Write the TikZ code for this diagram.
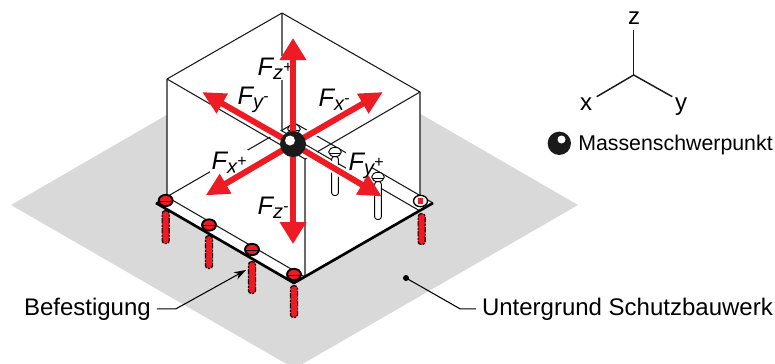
\documentclass[tikz,border=0pt]{standalone}
\usepackage{fontspec}
\setmainfont{Liberation Sans}
\usepackage{xcolor}
\usetikzlibrary{positioning, arrows.meta, shapes.geometric, calc}
\definecolor{forceRed}{HTML}{ED1C24}
\definecolor{groundGrey}{HTML}{D9D9D9}
\definecolor{ballBlack}{HTML}{1A1A1A}
\newcommand{\forcelabel}[2]{F\raisebox{-3pt}{\fontsize{15}{15}\selectfont #1}\raisebox{2.2pt}{\fontsize{12}{12}\selectfont #2}}
\tikzset{
  thinline/.style={line width=0.8pt, draw=ballBlack},
  plateline/.style={line width=2pt, draw=black, line join=round},
  forcearrow/.style={line width=4.5pt, draw=forceRed, fill=forceRed},
  forcehalo/.style={preaction={draw=white, line width=7.5pt}},
  forcelbl/.style={font=\fontsize{19}{21}\selectfont\itshape, anchor=base west, inner sep=1pt},
  plainlbl/.style={font=\fontsize{18}{21}\selectfont, inner sep=0pt},
  leader/.style={line width=0.8pt, draw=black},
  headred/.style={ellipse, draw=black, line width=1.4pt, fill=forceRed, minimum width=10.5pt,
    minimum height=8.5pt, inner sep=0pt},
  headwhite/.style={ellipse, draw=black, line width=0.7pt, fill=white, minimum width=9.5pt,
    minimum height=7pt, inner sep=0pt},
  shankred/.style={rectangle, rounded corners=2.4pt, anchor=north, draw=black, fill=forceRed,
    line width=0.9pt, dash pattern=on 4pt off 1pt on 1.5pt off 1pt, minimum width=5.4pt, inner sep=0pt},
  shankwhite/.style={rectangle, rounded corners=2pt, anchor=north, draw=black, fill=white,
    line width=0.7pt, minimum width=5pt, inner sep=0pt},
}
\begin{document}
\begin{tikzpicture}[x=0.75pt, y=-0.75pt]
  \useasboundingbox (0,0) rectangle (775,364);
  % ground and box
  \fill[groundGrey] (11,205) -- (294.5,41) -- (578,205) -- (302.4,364) -- (286.6,364) -- cycle;
  \fill[white] (167,79) -- (282,13) -- (420,92) -- (420,211) -- (305,277) -- (167,197) -- cycle;
  \foreach \px/\py/\len/\name in {165.7/210/33/s1, 209/235/33/s2, 252/261/32/s3, 294/285/32/s4, 421.7/213/31/s5}{
    \node[shankred, minimum height=\len*0.75pt] (\name) at (\px,\py) {};
  }
  \fill[white] (156,203) -- (294.5,123) -- (433,203) -- (294,283) -- cycle;
  \draw[thinline, line join=round] (156,203) -- (294.5,123) -- (433,203);
  \draw[thinline, line join=round] (282,13) -- (167,79) -- (167,197) -- (305,277) -- (305,159) -- (167,79);
  \draw[thinline] (282,13) -- (420,92) -- (420,205);
  \draw[thinline] (420,92) -- (305,159);
  \draw[thinline] (282,13) -- (282,131) -- (420,211);
  \draw[plateline] (156,203) -- (294,283) -- (433,203);
  % force labels, hide the lines behind them
  \node[forcelbl, fill=white] (lblzp) at (256,75) {\forcelabel{z}{+}};
  \node[forcelbl, fill=white] (lblym) at (236,104) {\forcelabel{y}{-}};
  \node[forcelbl, fill=white] (lblxm) at (317,106) {\forcelabel{x}{-}};
  \node[forcelbl, fill=white] (lblxp) at (210,169) {\forcelabel{x}{+}};
  \node[forcelbl, fill=white] (lblzm) at (256,214) {\forcelabel{z}{-}};
  \fill[white] (346,152) rectangle (372,179);
  % bolts
  \foreach \px/\py/\top/\len/\name in {294/129/132/10/b0, 335/152/156/39/b1, 378/177/181/38/b2}{
    \node[shankwhite, minimum height=\len*0.75pt] (shank\name) at (\px,\top) {};
    \node[headwhite] (head\name) at (\px,\py) {};
    \draw[line width=0.5pt, draw=black] ($(head\name.center)+(-6,1)$) -- ($(head\name.center)+(6,1)$);
  }
  \foreach \px/\py/\name in {165.7/200.5/h1, 209/225/h2, 252/249.5/h3, 294/274.5/h4}{
    \node[headred] (\name) at (\px,\py) {};
    \draw[line width=0.7pt, draw=black] ($(\name.center)+(-6,0.5)$) -- ($(\name.center)+(6,0.5)$);
  }
  \node[headwhite, minimum width=10.5pt, minimum height=8.5pt, line width=1pt] (h5) at (420.5,201) {};
  \node[fill=forceRed, minimum width=4pt, minimum height=5pt, inner sep=0pt] (h5core) at (h5.center) {};
  % forces
  \node[circle, fill=ballBlack, minimum size=19.5pt, inner sep=0pt] (ball) at (293,144) {};
  \coordinate (tipzp) at (293,38);
  \coordinate (tipzm) at (293,244);
  \foreach \tip in {tipzp, tipzm}{
    \draw[forcearrow, -{Triangle[length=16.5pt, width=19pt]}] (ball.center) -- (\tip);
  }
  \coordinate (tipym) at (202,92);
  \coordinate (tipxm) at (383,92);
  \coordinate (tipxp) at (205.5,195.5);
  \coordinate (tipyp) at (382,196.5);
  \foreach \tip in {tipym, tipxm, tipxp, tipyp}{
    \draw[forcearrow, forcehalo, -{Triangle[length=17.5pt, width=16pt]}] (ball.center) -- (\tip);
  }
  \node[circle, fill=ballBlack, minimum size=19.5pt, inner sep=0pt] (ballfront) at (ball.center) {};
  \node[circle, fill=white, minimum size=7.5pt, inner sep=0pt] (ballspot) at (290,140.5) {};
  \node[forcelbl] (lblyp) at (347,170) {\forcelabel{y}{+}};
  % axes
  \node[plainlbl, anchor=base] (axz) at (634,25) {z};
  \node[plainlbl, anchor=base] (axx) at (586,110) {x};
  \node[plainlbl, anchor=base] (axy) at (681,110) {y};
  \coordinate (axo) at (633.7,75);
  \coordinate (axzend) at (633.7,30);
  \coordinate (axxend) at (596.7,96.7);
  \coordinate (axyend) at (672.3,96.7);
  \draw[line width=1.1pt, draw=ballBlack] (axo) -- (axzend);
  \draw[line width=1.1pt, draw=ballBlack] (axo) -- (axxend);
  \draw[line width=1.1pt, draw=ballBlack] (axo) -- (axyend);
  % legend
  \node[circle, fill=ballBlack, minimum size=17.5pt, inner sep=0pt] (legball) at (559.3,143.3) {};
  \node[circle, fill=white, minimum size=6pt, inner sep=0pt] (legspot) at (561.5,139.5) {};
  \node[font=\fontsize{16}{19}\selectfont, inner sep=0pt, anchor=base west] (lblmass) at (578,150) {Massenschwerpunkt};
  % leaders
  \node[plainlbl, anchor=base west, outer sep=4.5pt] (lblbef) at (18,315) {Befestigung};
  \coordinate (befknee) at (176,310);
  \coordinate (beftip) at (246,270);
  \draw[leader, -{Stealth[length=9pt, width=6pt]}] (lblbef.east) -- (lblbef.east -| befknee) -- (beftip);
  \node[plainlbl, anchor=base west, outer sep=4.5pt] (lblground) at (476,315) {Untergrund Schutzbauwerk};
  \node[circle, fill=black, minimum size=4.5pt, inner sep=0pt] (grounddot) at (406,278) {};
  \coordinate (groundknee) at (460,310);
  \draw[leader] (grounddot.center) -- (lblground.west -| groundknee) -- (lblground.west);
\end{tikzpicture}
\end{document}
